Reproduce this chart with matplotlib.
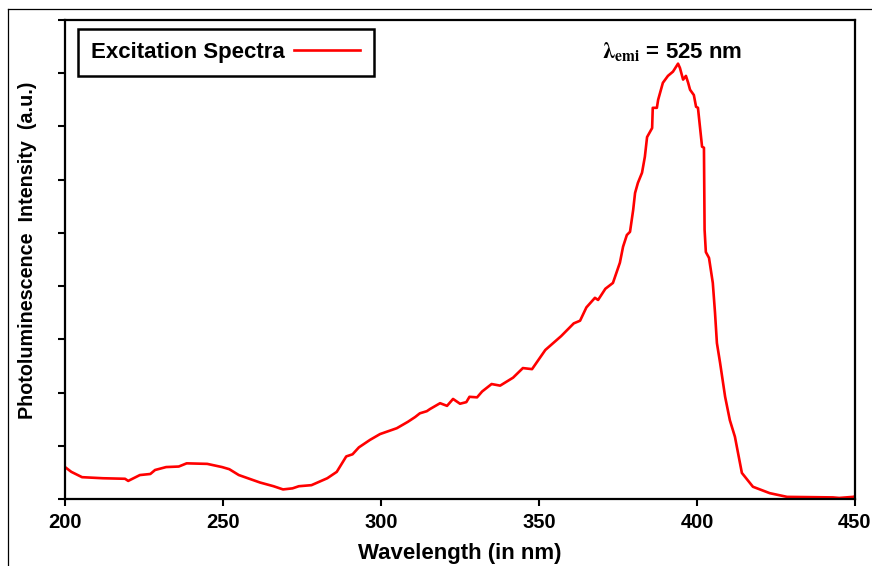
import matplotlib
matplotlib.use("Agg")
import matplotlib.pyplot as plt
from matplotlib.lines import Line2D

# excitation spectrum (lambda_emi = 525 nm); arbitrary units
wavelength = [200, 202, 205.4, 212, 219, 220, 223.7, 227, 228.5, 232, 236, 238.5,
              245, 249.7, 252, 255, 261.7, 266, 269, 272, 274, 278, 283, 286,
              289, 291, 293, 296.5, 299.7, 305, 308.5, 310.8, 312.3, 314.5, 315.5,
              318.7, 320.9, 322.8, 325, 327, 328, 330.4, 332, 335, 337.7, 341.8,
              344.9, 347.8, 352, 357, 361, 363, 365, 367.7, 368.7, 371, 373.4,
              375.6, 376.6, 377.8, 378.8, 379.8, 380.4, 381.3, 382.6, 383.5, 384.2,
              385.8, 386, 387.3, 387.7, 389.2, 390.8, 392.4, 394, 394.6, 395.6,
              396.5, 397.2, 397.8, 399, 399.7, 400.3, 401.6, 402.2, 402.4, 402.8,
              403.8, 405, 405.7, 406.3, 407.3, 408.9, 410.4, 412, 413, 414.2,
              417.7, 423, 428.5, 443, 445, 449.4, 450]
intensity = [0.60, 0.51, 0.41, 0.39, 0.38, 0.34, 0.45, 0.47, 0.545, 0.60, 0.61, 0.67,
             0.66, 0.60, 0.56, 0.45, 0.31, 0.24, 0.18, 0.20, 0.24, 0.26, 0.39, 0.51,
             0.80, 0.84, 0.97, 1.11, 1.22, 1.33, 1.45, 1.54, 1.61, 1.65, 1.69,
             1.80, 1.75, 1.88, 1.79, 1.82, 1.92, 1.91, 2.02, 2.16, 2.13, 2.28,
             2.46, 2.44, 2.80, 3.06, 3.30, 3.35, 3.60, 3.78, 3.74, 3.95, 4.06,
             4.44, 4.74, 4.96, 5.02, 5.43, 5.75, 5.94, 6.13, 6.43, 6.80,
             6.97, 7.35, 7.35, 7.50, 7.82, 7.95, 8.03, 8.18, 8.10, 7.88,
             7.95, 7.82, 7.69, 7.59, 7.37, 7.35, 6.62, 6.60, 5.06, 4.64,
             4.53, 4.06, 3.50, 2.93, 2.56, 1.92, 1.48, 1.17, 0.86, 0.49,
             0.23, 0.11, 0.04, 0.03, 0.02, 0.04, 0.05]

x_ticks = [200, 250, 300, 350, 400, 450]

plt.rcParams["font.family"] = ["Liberation Sans", "DejaVu Sans"]
plt.rcParams["font.weight"] = "bold"
plt.rcParams["mathtext.fontset"] = "stix"

fig = plt.figure(figsize=(8.72, 5.66), dpi=100)
ax = fig.add_axes([65 / 872, 67 / 566, 790 / 872, 479 / 566])

ax.plot(wavelength, intensity, color="#ff0000", lw=1.9, label="Excitation Spectra")

ax.set_xlim(200, 450)
ax.set_ylim(0, 9)
ax.set_xticks(x_ticks)
ax.set_yticks(range(10))
ax.set_yticklabels([])
ax.tick_params(direction="out", length=5, width=1.5, labelsize=14.5, pad=5)
for s in ax.spines.values():
    s.set_linewidth(1.6)

ax.set_xlabel("Wavelength (in nm)", fontsize=16, fontweight="bold", labelpad=8)
ax.set_ylabel("Photoluminescence  Intensity  (a.u.)", fontsize=14.2, fontweight="bold")
ax.yaxis.set_label_coords(-0.036, 0.52)

leg = ax.legend(loc="upper left", bbox_to_anchor=(0.016, 0.982), fontsize=16,
                markerfirst=False, handlelength=3.0, handletextpad=0.4,
                borderpad=0.6, fancybox=False, framealpha=1, borderaxespad=0)
leg.get_frame().set_edgecolor("black")
leg.get_frame().set_linewidth(1.8)
for t in leg.get_texts():
    t.set_fontweight("bold")

ax.text(0.68, 0.935, r"$\mathbf{\lambda}_{\mathrm{emi}}$ = 525 nm", transform=ax.transAxes,
        fontsize=16, fontweight="bold", ha="left", va="center")

# outer frame of the original figure
fig.add_artist(Line2D([8 / 872, 8 / 872], [0, 557 / 566], color="black", lw=0.9))
fig.add_artist(Line2D([8 / 872, 1], [557 / 566, 557 / 566], color="black", lw=0.9))

fig.savefig("out.png", dpi=100)
